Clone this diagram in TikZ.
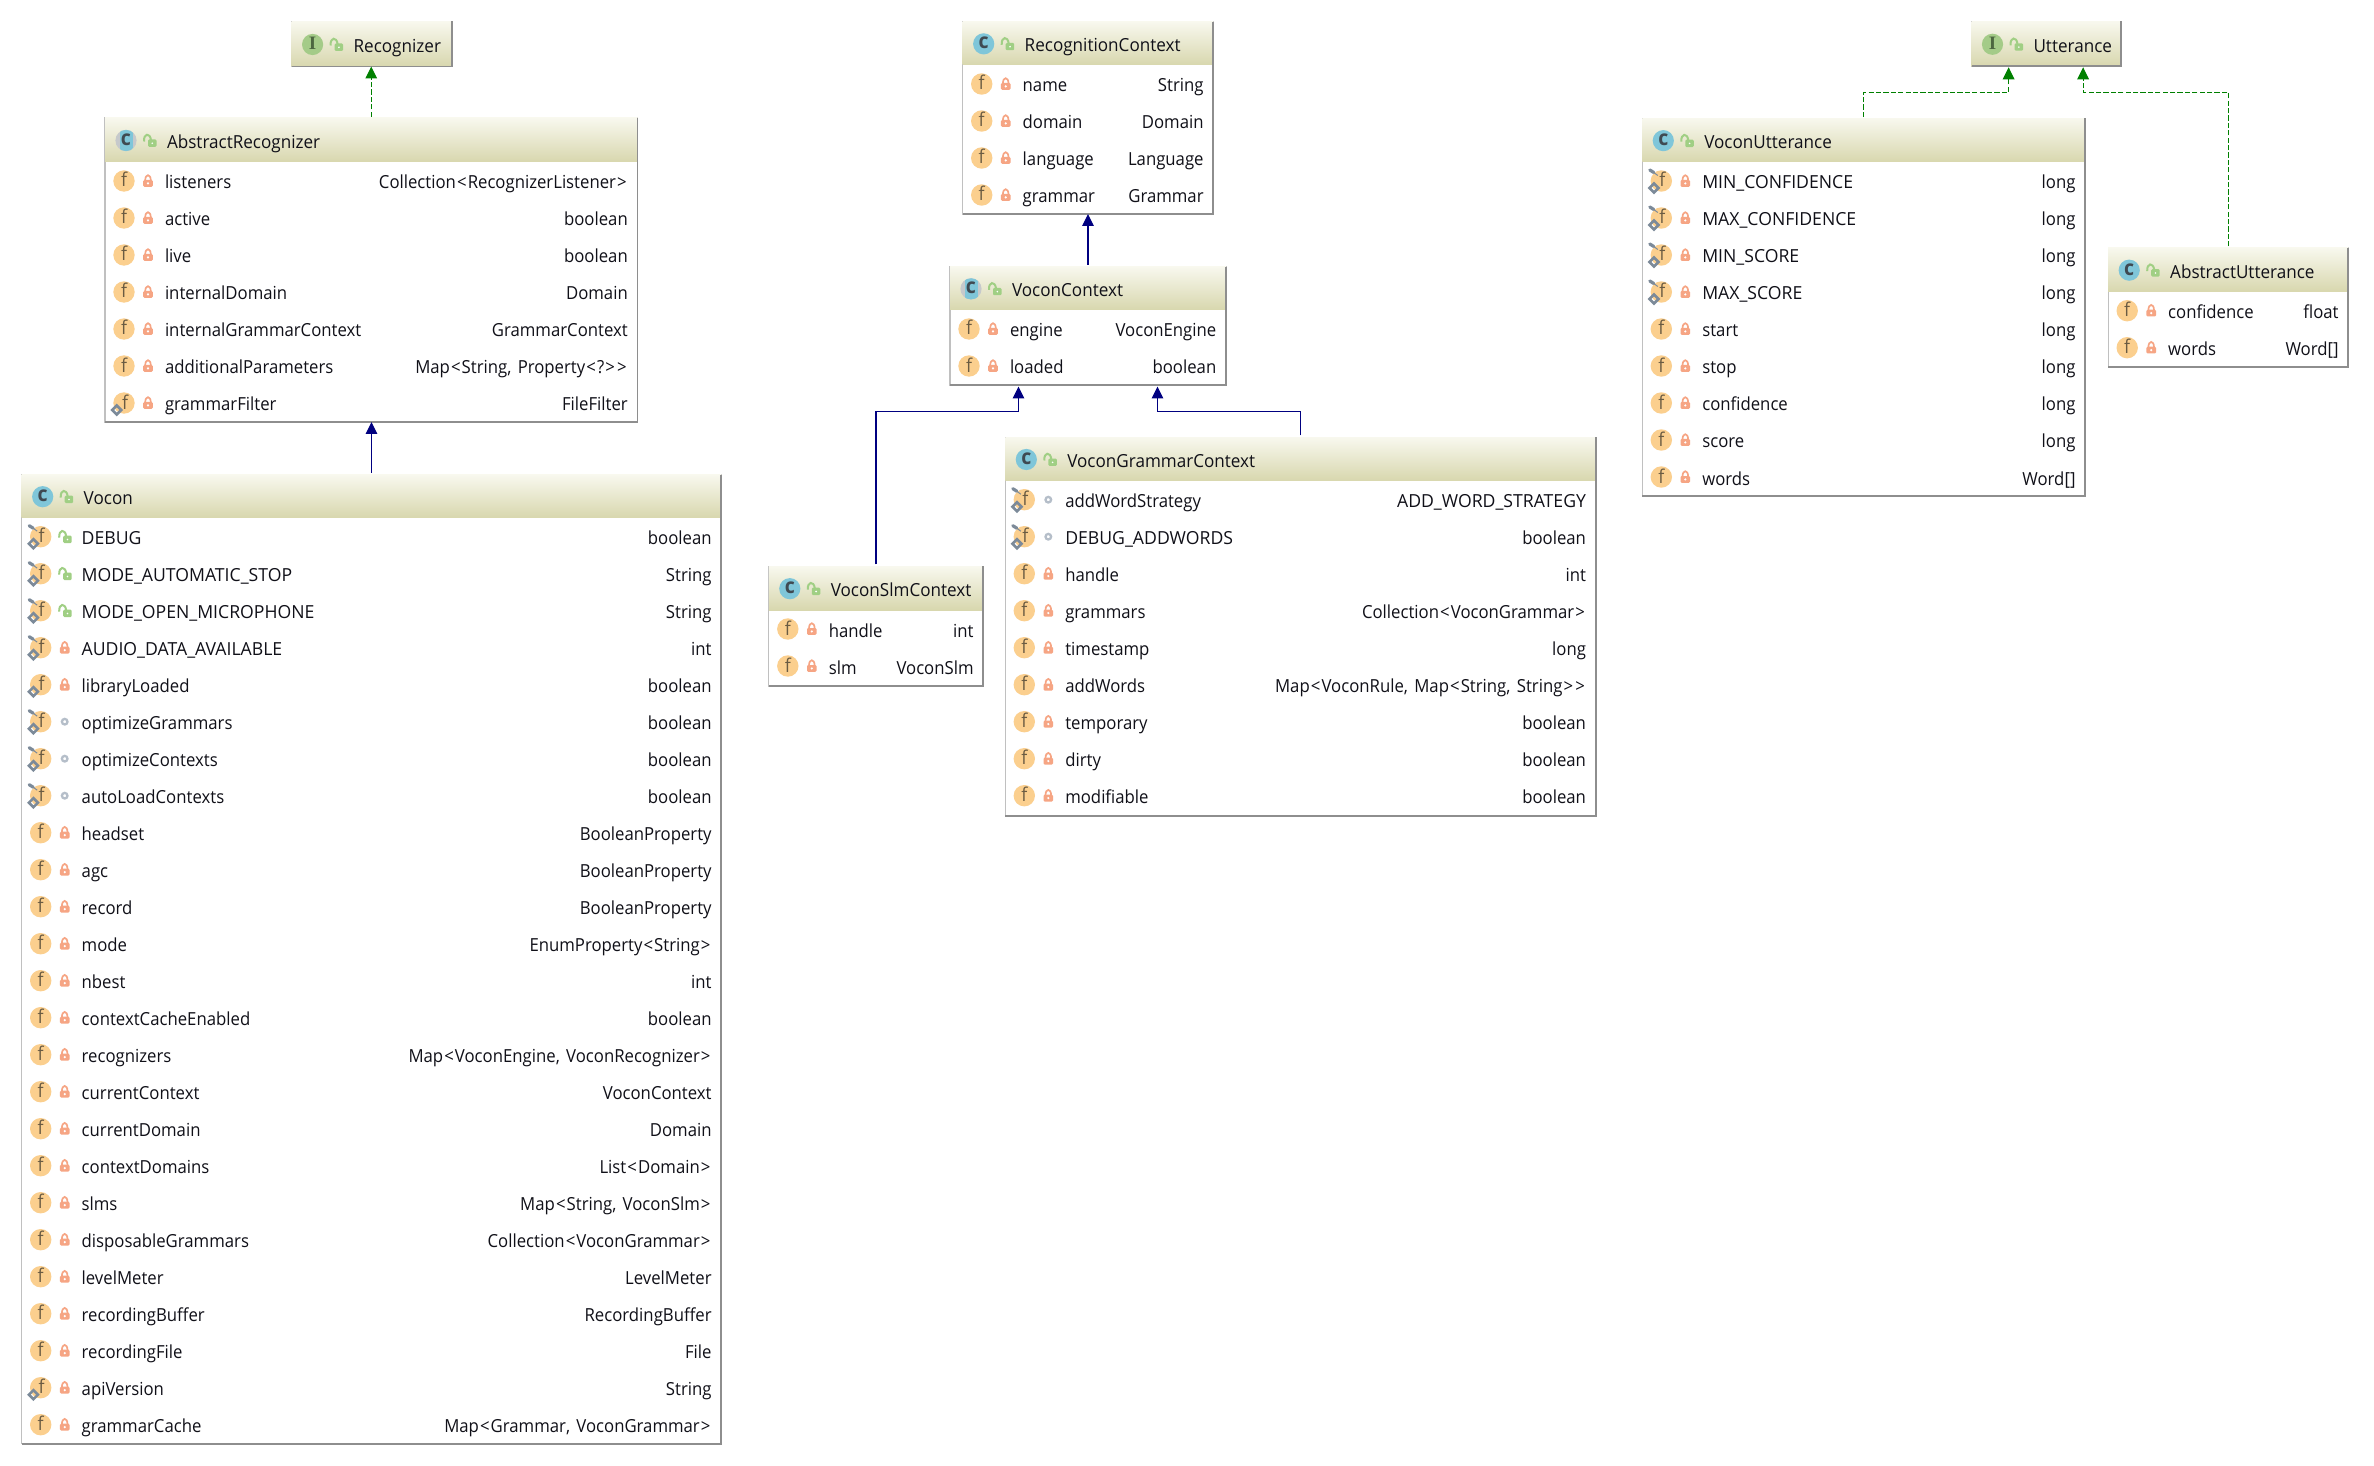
\documentclass[tikz,border=0pt]{standalone}
\usepackage{fontspec}
\setmainfont[FakeStretch=0.93]{Open Sans}
\newfontfamily\capsface[FakeStretch=0.98]{Open Sans}
\newfontfamily\titleface[FakeStretch=0.95]{Open Sans}
\usetikzlibrary{arrows.meta,calc}
\definecolor{hdtop}{HTML}{F8F8EE}
\definecolor{hdbot}{HTML}{D8D7AE}
\definecolor{edgelight}{HTML}{C0C0C0}
\definecolor{edgedark}{HTML}{8E8E8E}
\definecolor{txt}{HTML}{101018}
\definecolor{cblue}{HTML}{7FC6D9}
\definecolor{cgray}{HTML}{C6C9CB}
\definecolor{cletter}{HTML}{3F4A52}
\definecolor{igreen}{HTML}{A4CB88}
\definecolor{iletter}{HTML}{4C6640}
\definecolor{forange}{HTML}{FBCF8E}
\definecolor{fletter}{HTML}{6A5B42}
\definecolor{pingray}{HTML}{7C8A99}
\definecolor{lockred}{HTML}{F6A584}
\definecolor{lockgreen}{HTML}{A0CF84}
\definecolor{visgray}{HTML}{B5BEC9}
\definecolor{inhblue}{HTML}{000080}
\definecolor{impgreen}{HTML}{008000}
\newcount\rowN
\newcommand\Lt{\kern.55pt<\kern.55pt}
\newcommand\Gt{\kern.55pt>\kern.55pt}
\newcommand\Cm{,\kern1pt}
\newcommand\Ca[1]{{\capsface #1}}
\tikzset{
  x=0.5pt,y=-0.5pt,
  boxbody/.style={draw=edgelight,fill=white,line width=0.6pt,inner sep=0pt,outer sep=0pt,anchor=north west},
  boxhead/.style={top color=hdtop,bottom color=hdbot,draw=none,inner sep=0pt,outer sep=0pt,anchor=north west},
  boxedge/.style={draw=edgedark,line width=0.9pt},
  rowname/.style={anchor=base west,inner sep=0pt,outer sep=0pt,text=txt,font=\fontsize{9}{11}\selectfont},
  rowtitle/.style={anchor=base west,inner sep=0pt,outer sep=0pt,text=txt,font=\titleface\fontsize{9}{11}\selectfont},
  rowtype/.style={anchor=base east,inner sep=0pt,outer sep=0pt,text=txt,font=\fontsize{9}{11}\selectfont},
  inhline/.style={draw=inhblue,line width=0.58pt,-{Triangle[length=6pt,width=5.8pt]}},
  impline/.style={draw=impgreen,line width=0.58pt,dash pattern=on 2.6pt off 1.1pt,-{Triangle[length=6pt,width=5.8pt]}},
  ficon/.pic={
    \fill[forange] (0,0) circle[radius=10.7];
    \node[inner sep=0pt,anchor=base,text=fletter,font=\fontsize{9.5}{11}\selectfont] (-f) at (0,6) {f};
  },
  ficonD/.pic={
    \fill[forange] (0,0) circle[radius=10.7];
    \node[inner sep=0pt,anchor=base,text=fletter,font=\fontsize{9.5}{11}\selectfont] (-f) at (1,6) {f};
    \draw[pingray,line width=1.3pt] (-7.3,2.5) -- (-2.8,7) -- (-7.3,11.5) -- (-11.8,7) -- cycle;
  },
  ficonS/.pic={
    \fill[forange] (0,0) circle[radius=10.7];
    \node[inner sep=0pt,anchor=base,text=fletter,font=\fontsize{9.5}{11}\selectfont] (-f) at (1,6) {f};
    \draw[pingray,line width=1.3pt] (-7.3,2.5) -- (-2.8,7) -- (-7.3,11.5) -- (-11.8,7) -- cycle;
    \draw[pingray,line width=1.6pt,line cap=round] (-11.5,-11) -- (-7.5,-8.5);
    \draw[pingray,line width=0.5pt] (-7.5,-8.5) -- (-3.5,-5.5);
  },
  lockclosed/.pic={
    \fill[lockred,rounded corners=0.6pt] (-4.8,-1) rectangle (4.8,5.8);
    \draw[lockred,line width=0.85pt] (-2.8,-0.5) .. controls (-2.8,-7.5) and (2.8,-7.5) .. (2.8,-0.5);
    \fill[white] (0,2.4) circle[radius=1.2];
  },
  lockopen/.pic={
    \fill[lockgreen,rounded corners=0.6pt] (-1.5,-1) rectangle (7,6.4);
    \draw[lockgreen,line width=1pt] (-5.5,1) .. controls (-6,-7.5) and (0.5,-8) .. (1.5,-0.5);
    \fill[white] (2.8,2.8) circle[radius=0.9];
  },
  visdot/.pic={
    \draw[visgray,line width=1.15pt] (0,0) circle[radius=2.8];
  },
  hiconC/.pic={
    \fill[cblue] (0,0) circle[radius=10.6];
    \node[inner sep=0pt,anchor=base,text=cletter,font=\fontsize{10.5}{11}\selectfont\bfseries] (-l) at (0,5) {c};
  },
  hiconA/.pic={
    \fill[cgray] (0,0) circle[radius=10.6];
    \begin{scope}
      \clip (0,0) circle[radius=10.6];
      \fill[cblue] (-6.5,-12) rectangle (6.5,12);
    \end{scope}
    \node[inner sep=0pt,anchor=base,text=cletter,font=\fontsize{10.5}{11}\selectfont\bfseries] (-l) at (0,5) {c};
  },
  hiconI/.pic={
    \fill[igreen] (0,0) circle[radius=10.6];
    \node[inner sep=0pt,anchor=base,text=iletter,font=\fontspec{Liberation Serif}\fontsize{9.5}{11}\selectfont\bfseries] (-l) at (0,5.5) {I};
  },
}
% id, x1, x2, ytop, yhead, ybot, icon, title
\newcommand\umlbox[8]{%
  \def\curid{#1}\def\lx{#2}\def\rx{#3}\def\hy{#5}\rowN=0
  \pgfmathsetmacro\bw{(#3-#2)*0.5}%
  \pgfmathsetmacro\bh{(#6-#4)*0.5}%
  \pgfmathsetmacro\hh{(#5-#4)*0.5}%
  \pgfmathsetmacro\tcy{(#4+#5)/2+0.5}%
  \pgfmathsetmacro\tby{\tcy+8}%
  \pgfmathsetmacro\icx{#2+21}%
  \pgfmathsetmacro\lcx{#2+44.5}%
  \pgfmathsetmacro\ttx{#2+62}%
  \node[boxbody,minimum width=\bw pt,minimum height=\bh pt] (#1) at (#2,#4) {};
  \node[boxhead,minimum width=\bw pt,minimum height=\hh pt] (#1-head) at (#2,#4) {};
  \draw[boxedge] (#1.north east) -- (#1.south east) -- (#1.south west);
  \pic (#1-icon) at (\icx,\tcy) {hicon#7};
  \pic (#1-vis) at (\lcx,\tcy) {lockopen};
  \node[rowtitle] (#1-title) at (\ttx,\tby) {#8};
}
% icon kind, visibility, name, type
\newcommand\urow[4]{%
  \advance\rowN by 1
  \pgfmathsetmacro\ry{\hy+19+(\the\rowN-1)*37}%
  \pgfmathsetmacro\by{\ry+8}%
  \pgfmathsetmacro\fx{\lx+19}%
  \pgfmathsetmacro\vx{\lx+43}%
  \pgfmathsetmacro\nx{\lx+60}%
  \pgfmathsetmacro\tx{\rx-9.7}%
  \pic (\curid-r\the\rowN-icon) at (\fx,\ry) {ficon#1};
  \pic (\curid-r\the\rowN-vis) at (\vx,\ry) {#2};
  \node[rowname] (\curid-r\the\rowN-name) at (\nx,\by) {#3};
  \node[rowtype] (\curid-r\the\rowN-type) at (\tx,\by) {#4};
}
\newcommand\lk{lockclosed}
\newcommand\op{lockopen}
\newcommand\vd{visdot}
\begin{document}
\begin{tikzpicture}
\useasboundingbox (0,0) rectangle (2374,1466);
\fill[white] (0,0) rectangle (2374,1466);

\umlbox{rec}{291.6}{451.6}{21.5}{66.5}{66.5}{I}{Recognizer}

\umlbox{arec}{105}{637.5}{118}{162}{422}{A}{AbstractRecognizer}
\urow{}{\lk}{listeners}{Collection\Lt RecognizerListener\Gt}
\urow{}{\lk}{active}{boolean}
\urow{}{\lk}{live}{boolean}
\urow{}{\lk}{internalDomain}{Domain}
\urow{}{\lk}{internalGrammarContext}{GrammarContext}
\urow{}{\lk}{additionalParameters}{Map\Lt String\Cm{} Property\Lt?\Gt\Gt}
\urow{D}{\lk}{grammarFilter}{FileFilter}

\umlbox{vocon}{21.7}{721.3}{474.7}{517.7}{1443.7}{C}{Vocon}
\urow{S}{\op}{\Ca{DEBUG}}{boolean}
\urow{S}{\op}{\Ca{MODE\_AUTOMATIC\_STOP}}{String}
\urow{S}{\op}{\Ca{MODE\_OPEN\_MICROPHONE}}{String}
\urow{S}{\lk}{\Ca{AUDIO\_DATA\_AVAILABLE}}{int}
\urow{D}{\lk}{libraryLoaded}{boolean}
\urow{S}{\vd}{optimizeGrammars}{boolean}
\urow{S}{\vd}{optimizeContexts}{boolean}
\urow{S}{\vd}{autoLoadContexts}{boolean}
\urow{}{\lk}{headset}{BooleanProperty}
\urow{}{\lk}{agc}{BooleanProperty}
\urow{}{\lk}{record}{BooleanProperty}
\urow{}{\lk}{mode}{EnumProperty\Lt String\Gt}
\urow{}{\lk}{nbest}{int}
\urow{}{\lk}{contextCacheEnabled}{boolean}
\urow{}{\lk}{recognizers}{Map\Lt VoconEngine\Cm{} VoconRecognizer\Gt}
\urow{}{\lk}{currentContext}{VoconContext}
\urow{}{\lk}{currentDomain}{Domain}
\urow{}{\lk}{contextDomains}{List\Lt Domain\Gt}
\urow{}{\lk}{slms}{Map\Lt String\Cm{} VoconSlm\Gt}
\urow{}{\lk}{disposableGrammars}{Collection\Lt VoconGrammar\Gt}
\urow{}{\lk}{levelMeter}{LevelMeter}
\urow{}{\lk}{recordingBuffer}{RecordingBuffer}
\urow{}{\lk}{recordingFile}{File}
\urow{D}{\lk}{apiVersion}{String}
\urow{}{\lk}{grammarCache}{Map\Lt Grammar\Cm{} VoconGrammar\Gt}

\umlbox{rctx}{962.7}{1213.3}{21.7}{65}{214}{C}{RecognitionContext}
\urow{}{\lk}{name}{String}
\urow{}{\lk}{domain}{Domain}
\urow{}{\lk}{language}{Language}
\urow{}{\lk}{grammar}{Grammar}

\umlbox{vctx}{950}{1226}{266.7}{310}{385}{A}{VoconContext}
\urow{}{\lk}{engine}{VoconEngine}
\urow{}{\lk}{loaded}{boolean}

\umlbox{slm}{768.8}{983.3}{566.4}{610}{686}{C}{VoconSlmContext}
\urow{}{\lk}{handle}{int}
\urow{}{\lk}{slm}{VoconSlm}

\umlbox{gram}{1005.3}{1595.7}{437.3}{480.7}{815.7}{C}{VoconGrammarContext}
\urow{S}{\vd}{addWordStrategy}{\Ca{ADD\_WORD\_STRATEGY}}
\urow{S}{\vd}{\Ca{DEBUG\_ADDWORDS}}{boolean}
\urow{}{\lk}{handle}{int}
\urow{}{\lk}{grammars}{Collection\Lt VoconGrammar\Gt}
\urow{}{\lk}{timestamp}{long}
\urow{}{\lk}{addWords}{Map\Lt VoconRule\Cm{} Map\Lt String\Cm{} String\Gt\Gt}
\urow{}{\lk}{temporary}{boolean}
\urow{}{\lk}{dirty}{boolean}
\urow{}{\lk}{modifiable}{boolean}

\umlbox{utt}{1971.5}{2120.8}{21.3}{66.3}{66.3}{I}{Utterance}

\umlbox{vutt}{1642.3}{2085.2}{118.3}{162}{496}{C}{VoconUtterance}
\urow{S}{\lk}{\Ca{MIN\_CONFIDENCE}}{long}
\urow{S}{\lk}{\Ca{MAX\_CONFIDENCE}}{long}
\urow{S}{\lk}{\Ca{MIN\_SCORE}}{long}
\urow{S}{\lk}{\Ca{MAX\_SCORE}}{long}
\urow{}{\lk}{start}{long}
\urow{}{\lk}{stop}{long}
\urow{}{\lk}{confidence}{long}
\urow{}{\lk}{score}{long}
\urow{}{\lk}{words}{Word[]}

\umlbox{autt}{2108.2}{2348.3}{247.7}{291.7}{366.7}{C}{AbstractUtterance}
\urow{}{\lk}{confidence}{float}
\urow{}{\lk}{words}{Word[]}

% connectors
\coordinate (vctxL) at ($(vctx.south)+(-69.5,1.5)$);
\coordinate (vctxR) at ($(vctx.south)+(69.5,1.5)$);
\coordinate (vctxLb) at ($(vctx.south)+(-69.5,26.3)$);
\coordinate (vctxRb) at ($(vctx.south)+(69.5,26.3)$);
\coordinate (uttL) at ($(utt.south)+(-37.5,1)$);
\coordinate (uttR) at ($(utt.south)+(37,1)$);
\coordinate (uttLb) at ($(utt.south)+(-37.5,26)$);
\coordinate (uttRb) at ($(utt.south)+(37,26)$);
\draw[impline,shorten <=0.6pt] (arec.north) -- (arec.north |- rec.south);
\draw[inhline,shorten <=1pt] (vocon.north) -- (vocon.north |- arec.south);
\draw[inhline,shorten <=1pt] (vctx.north) -- (vctx.north |- rctx.south);
\draw[inhline,shorten <=1pt] (slm.north) |- (vctxLb) -- (vctxL);
\draw[inhline,shorten <=1pt] (gram.north) |- (vctxRb) -- (vctxR);
\draw[impline,shorten <=0.6pt] (vutt.north) |- (uttLb) -- (uttL);
\draw[impline,shorten <=0.6pt] (autt.north) |- (uttRb) -- (uttR);
\end{tikzpicture}
\end{document}
